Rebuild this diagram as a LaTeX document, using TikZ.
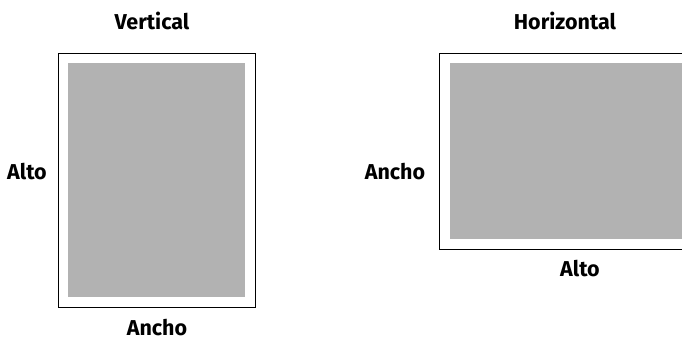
\documentclass[tikz,border=0pt]{standalone}
\usepackage{fontspec}
\setmainfont{Fira Sans}
\begin{document}
\begin{tikzpicture}[x=1pt,y=-1pt,
  lbl/.style={font=\bfseries\fontsize{21.5}{24}\selectfont, inner sep=0pt, anchor=base},
  frame/.style={draw=black, line width=1pt, fill=white},
  paper/.style={fill=gray!60!white, draw=none}]
\useasboundingbox (0,0) rectangle (682,341);
\clip (0,0) rectangle (682,341);
% left (vertical)
\node[frame, minimum width=197pt, minimum height=254pt, inner sep=0pt] (vframe) at (156.5,180) {};
\node[paper, minimum width=177pt, minimum height=234pt, inner sep=0pt] (vpaper) at (vframe.center) {};
\node[lbl] (vtitle) at (152,29.5) {Vertical};
\node[lbl] (valto) at (27,179.5) {Alto};
\node[lbl] (vancho) at (157,335.5) {Ancho};
% right (horizontal)
\node[frame, minimum width=254pt, minimum height=196pt, inner sep=0pt] (hframe) at (566.5,151) {};
\node[paper, minimum width=234pt, minimum height=176pt, inner sep=0pt] (hpaper) at (hframe.center) {};
\node[lbl] (htitle) at (565,29.5) {Horizontal};
\node[lbl] (hancho) at (395,179.5) {Ancho};
\node[lbl] (halto) at (580,276) {Alto};
\end{tikzpicture}
\end{document}
